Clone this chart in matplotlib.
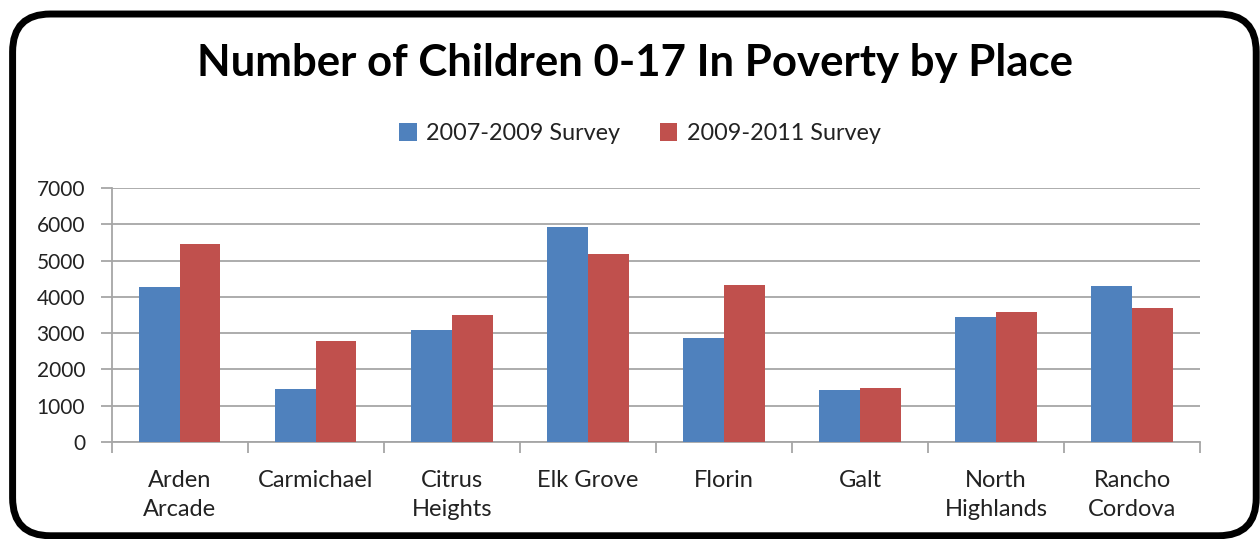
import matplotlib.pyplot as plt
import numpy as np
from matplotlib.patches import FancyBboxPatch

places = ["Arden\nArcade", "Carmichael", "Citrus\nHeights", "Elk Grove",
          "Florin", "Galt", "North\nHighlands", "Rancho\nCordova"]
survey_0709 = [4260, 1470, 3100, 5920, 2860, 1440, 3450, 4300]
survey_0911 = [5470, 2780, 3500, 5180, 4340, 1490, 3590, 3700]
y_ticks = [0, 1000, 2000, 3000, 4000, 5000, 6000, 7000]

plt.rcParams["font.family"] = ["Lato", "DejaVu Sans"]

fig = plt.figure(figsize=(12.6, 5.39), dpi=100)

# rounded black frame around the chart
frame = FancyBboxPatch((0.01, 0.006), 0.987, 0.968,
                       boxstyle="round,pad=0,rounding_size=0.03",
                       transform=fig.transFigure, facecolor="white",
                       edgecolor="black", linewidth=5, zorder=-5,
                       mutation_aspect=12.6 / 5.39)
fig.patches.append(frame)

ax = fig.add_axes([0.0885, 0.18, 0.864, 0.4712])
ax.set_facecolor("none")
ax.set_zorder(2)

x = np.arange(len(places))
w = 0.3
ax.bar(x - w / 2, survey_0709, w, color="#4F81BD", label="2007-2009 Survey", zorder=3)
ax.bar(x + w / 2, survey_0911, w, color="#C0504D", label="2009-2011 Survey", zorder=3)

ax.set_xlim(-0.5, len(places) - 0.5)
ax.set_ylim(0, 7000)
ax.set_yticks(y_ticks)
ax.set_yticklabels([str(v) for v in y_ticks], fontsize=15, color="#222222")
ax.yaxis.grid(True, color="#A6A6A6", linewidth=1.3, zorder=0)

ax.set_xticks(x)
ax.set_xticklabels(places, fontsize=17, linespacing=1.5, color="#222222")
ax.set_xticks(np.arange(-0.5, len(places)), minor=True)
ax.tick_params(axis="x", which="major", length=0, pad=20)
ax.tick_params(axis="x", which="minor", length=8, color="#A6A6A6", width=1.3)
ax.tick_params(axis="y", length=8, color="#A6A6A6", width=1.3, pad=11)

for side in ["top", "right"]:
    ax.spines[side].set_visible(False)
for side in ["left", "bottom"]:
    ax.spines[side].set_color("#A6A6A6")
    ax.spines[side].set_linewidth(1.3)

fig.text(0.504, 0.883, "Number of Children 0-17 In Poverty by Place",
         ha="center", va="center", fontsize=31.5, fontweight="bold")
fig.legend(loc="center", bbox_to_anchor=(0.508, 0.752), ncol=2, frameon=False,
           fontsize=16.8, handlelength=0.75, handleheight=0.75, columnspacing=1.7,
           handletextpad=0.4, labelcolor="#222222")

fig.savefig("out.png", dpi=100)
